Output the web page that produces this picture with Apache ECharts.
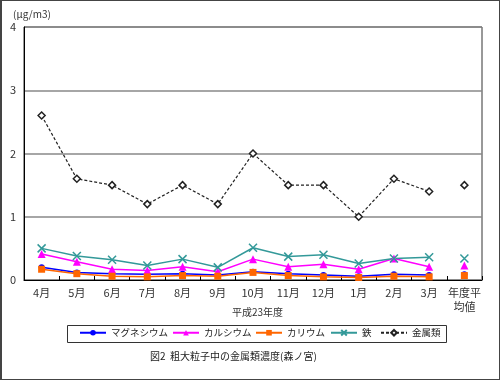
<!DOCTYPE html>
<html><head><meta charset="utf-8">
<script src="https://cdn.jsdelivr.net/npm/echarts@6/dist/echarts.min.js"></script>
<style>html,body{margin:0;padding:0;background:#fff}#c{width:500px;height:380px;box-sizing:border-box;border:1px solid #444;border-left:2px solid #444}</style>
</head><body><div id="c"></div>
<script>
const categories = ['4月','5月','6月','7月','8月','9月','10月','11月','12月','1月','2月','3月','年度平\n均値'];
const seriesNames = ['マグネシウム','カルシウム','カリウム','鉄','金属類'];
const mg  = [0.20,0.12,0.10,0.09,0.10,0.08,0.13,0.10,0.08,0.06,0.09,0.08];
const ca  = [0.41,0.29,0.17,0.15,0.21,0.13,0.33,0.21,0.25,0.17,0.34,0.21];
const k   = [0.17,0.10,0.06,0.05,0.07,0.06,0.12,0.07,0.05,0.04,0.06,0.05];
const fe  = [0.50,0.38,0.32,0.23,0.33,0.20,0.51,0.37,0.40,0.26,0.34,0.36];
const met = [2.6,1.6,1.5,1.2,1.5,1.2,2.0,1.5,1.5,1.0,1.6,1.4];
const avg = {mg:0.09, ca:0.23, k:0.07, fe:0.34, met:1.5};
const yTicks = [0,1,2,3,4];

const font = '"Noto Sans CJK JP","Noto Sans",sans-serif';
const xPath = 'path://M0,0L10,10M10,0L0,10';
const styles = [
  {data:mg, avg:avg.mg, color:'#0000ff', symbol:'circle', size:6, lt:'solid'},
  {data:ca, avg:avg.ca, color:'#ff00ff', symbol:'triangle', size:8, lt:'solid'},
  {data:k, avg:avg.k, color:'#ff6600', symbol:'rect', size:7, lt:'solid'},
  {data:fe, avg:avg.fe, color:'#339999', symbol:xPath, size:8, lt:'solid'},
  {data:met, avg:avg.met, color:'#222222', symbol:'diamond', size:7, lt:[3,2]}
];
const series = [];
styles.forEach((s,i)=>{
  const isX = s.symbol===xPath, isD = s.symbol==='diamond';
  const itemStyle = isX ? {color:s.color, borderColor:s.color, borderWidth:1.5}
    : isD ? {color:'#fff', borderColor:'#222', borderWidth:1.5} : {color:s.color};
  series.push({name:seriesNames[i], type:'line', data:s.data.concat([null]), symbol:s.symbol, symbolSize:s.size,
    showAllSymbol:true, lineStyle:{color:s.color, width:isD?1.2:1.5, type:s.lt}, itemStyle, z:isD?5:3});
  const av = new Array(12).fill(null); av.push(s.avg);
  series.push({name:seriesNames[i], type:'line', data:av, symbol:s.symbol, symbolSize:s.size, showAllSymbol:true,
    lineStyle:{width:0}, itemStyle, z:isD?5:3});
});

const legendLefts = [77,170,253,328,378];
const legends = seriesNames.map((n,i)=>({data:[n], left:legendLefts[i], top:327, padding:0,
  itemWidth:26, itemHeight:7, itemGap:0, textStyle:{fontSize:9.5, color:'#222', fontFamily:font}}));

const chart = echarts.init(document.getElementById('c'), null, {renderer:'canvas'});
chart.setOption({
  animation:false,
  textStyle:{fontFamily:font},
  grid:{left:22, right:17, top:26, bottom:99, show:true, borderColor:'#333', borderWidth:1},
  xAxis:{type:'category', data:categories, boundaryGap:true,
    axisLine:{lineStyle:{color:'#000'}}, axisTick:{show:true, inside:true, length:4, lineStyle:{color:'#000'}},
    axisLabel:{color:'#333', fontSize:11, fontFamily:font, margin:6, interval:0, lineHeight:14}},
  yAxis:{type:'value', min:yTicks[0], max:yTicks[yTicks.length-1], interval:1,
    axisLine:{show:true, lineStyle:{color:'#000'}}, axisTick:{show:false},
    axisLabel:{color:'#333', fontSize:11, margin:8},
    splitLine:{lineStyle:{color:'#888', width:1.5}}},
  legend:legends,
  graphic:[
    {type:'rect', shape:{x:65.5, y:324.5, width:379, height:17}, style:{fill:'none', stroke:'#333', lineWidth:1}},
    {type:'text', left:11, top:8, style:{text:'(μg/m3)', fontSize:10, fill:'#333', fontFamily:font}},
    {type:'text', left:230, top:306, style:{text:'平成23年度', fontSize:10, fill:'#333', fontFamily:font}},
    {type:'text', left:148, top:350, style:{text:'図2  粗大粒子中の金属類濃度(森ノ宮)', fontSize:10, fill:'#222', fontFamily:font}}
  ],
  series
});
</script></body></html>
